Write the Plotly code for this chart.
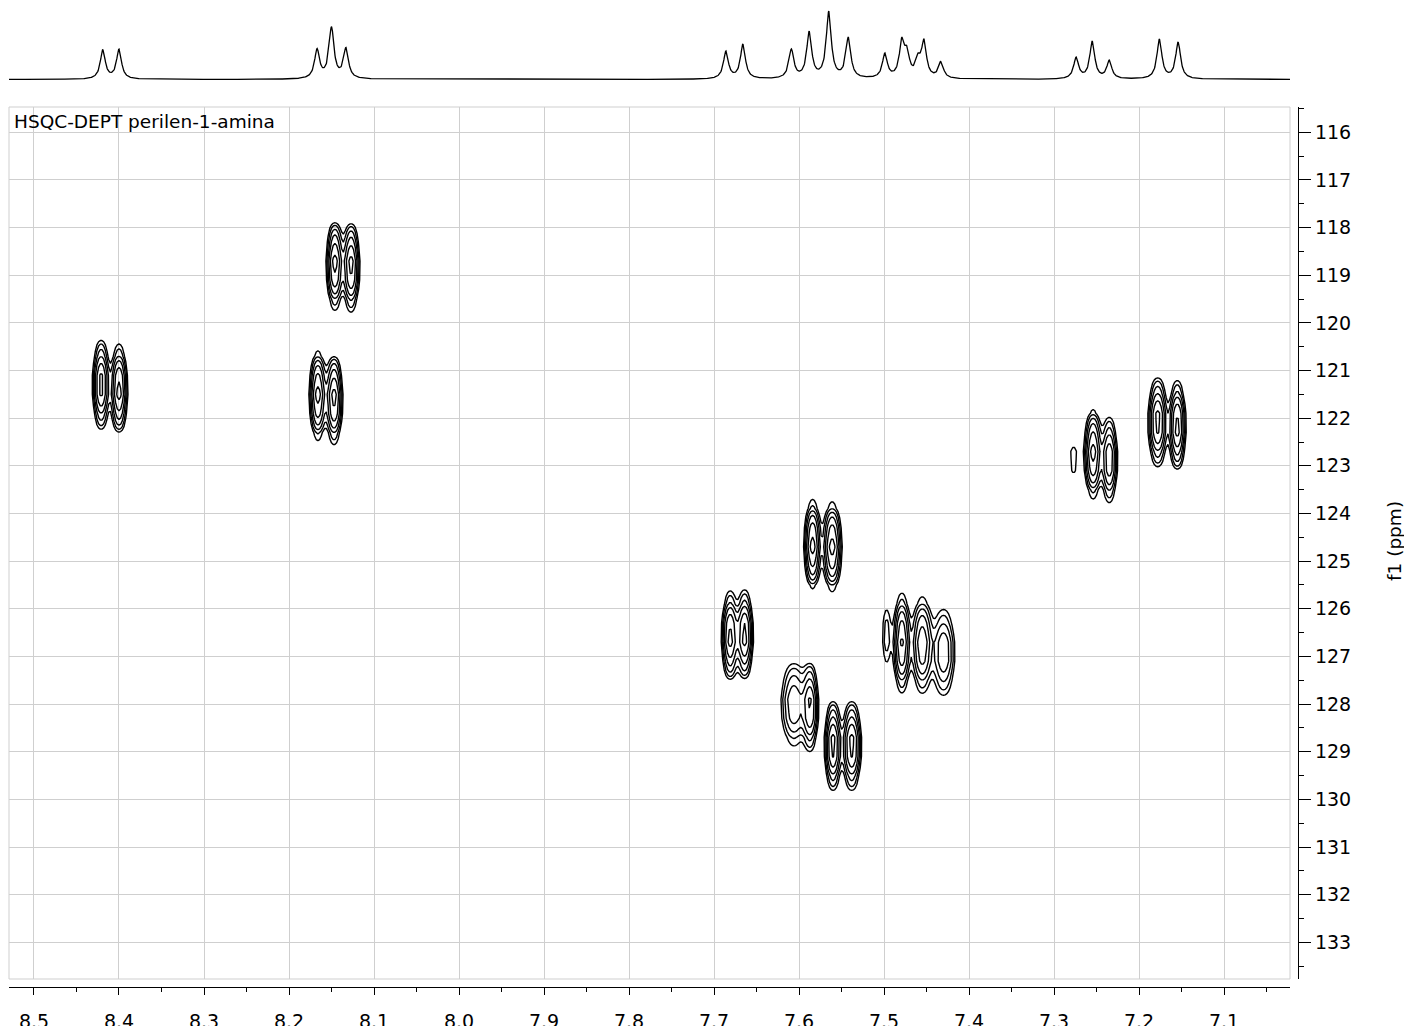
import numpy as np
import plotly.graph_objects as go

# ---------------- data ----------------
# 1H projection (top trace): peak positions (ppm) and observed heights (arb. units)
h1_ppm = [8.419, 8.400, 8.167, 8.150, 8.133,
          7.686, 7.666, 7.609, 7.588, 7.565, 7.542,
          7.499, 7.479, 7.473, 7.460, 7.453, 7.433,
          7.274, 7.255, 7.235, 7.176, 7.154]
h1_height = [30.0, 30.5, 31.0, 53.0, 32.0,
             28.5, 35.5, 30.5, 48.5, 68.5, 42.5,
             26.5, 42.5, 33.5, 26.5, 40.5, 18.5,
             22.5, 38.5, 19.5, 40.5, 37.5]

# HSQC cross peaks: f2 (1H ppm), f1 (13C ppm), relative amplitude, f2 / f1 widths (ppm)
cp_f2 = [8.421, 8.400, 8.166, 8.147, 8.146, 8.127,
         7.681, 7.664, 7.584, 7.561, 7.606, 7.587,
         7.560, 7.538, 7.497, 7.479, 7.455, 7.430,
         7.277, 7.254, 7.235, 7.178, 7.155]
cp_f1 = [121.30, 121.40, 121.52, 121.60, 118.78, 118.82,
         126.58, 126.55, 124.66, 124.70, 128.00, 128.06,
         128.87, 128.87, 126.57, 126.72, 126.76, 126.92,
         122.87, 122.74, 122.87, 122.08, 122.16]
cp_amp = [1.0, 1.0, 1.0, 1.0, 1.0, 1.0,
          1.0, 1.0, 1.0, 1.0, 0.55, 0.9,
          1.0, 1.0, 0.22, 0.9, 0.8, 0.55,
          0.14, 1.0, 0.8, 1.0, 1.0]
cp_w2 = [0.0050, 0.0050, 0.0050, 0.0050, 0.0050, 0.0050,
         0.0050, 0.0050, 0.0050, 0.0056, 0.0085, 0.0050,
         0.0050, 0.0056, 0.0040, 0.0052, 0.0065, 0.0075,
         0.0060, 0.0052, 0.0050, 0.0056, 0.0050]
cp_w1 = [0.42, 0.42, 0.42, 0.42, 0.42, 0.42,
         0.42, 0.42, 0.42, 0.42, 0.46, 0.42,
         0.42, 0.42, 0.46, 0.48, 0.48, 0.48,
         0.40, 0.42, 0.42, 0.42, 0.42]
contour_levels = [0.11, 0.165, 0.25, 0.37, 0.56, 0.84]

x_ticks_dtick = 0.1
y_ticks_dtick = 1
title_text = "HSQC-DEPT perilen-1-amina"
f1_label = "f1 (ppm)"

# ---------------- geometry (page has an 8px body margin) ----------------
OFF = 8
W, H = 1412 - OFF, 1026 - OFF


def xp(px):
    return (px - OFF) / W


def yp(py):
    return 1 - (py - OFF) / H


X_LEFT, X_RIGHT = 9, 1290
Y_TOP, Y_BOT = 107, 979
x_range = [8.5294, 7.0224]
y_range = [133.77, 115.469]
FONT = "DejaVu Sans"

# ---------------- 1D trace ----------------
gam = 0.0035
pp = np.array(h1_ppm)
hh = np.array(h1_height)
M = gam**2 / ((pp[:, None] - pp[None, :])**2 + gam**2)
amps = np.clip(np.linalg.solve(M, hh), 0, None)
xs = np.arange(x_range[1], x_range[0], 0.0005)
spec = (amps[None, :] * gam**2 / ((xs[:, None] - pp[None, :])**2 + gam**2)).sum(axis=1)

# ---------------- 2D map (coarse f1 digitisation, fine f2) ----------------
f2 = np.arange(7.0, 8.55, 0.002)
f1 = np.arange(115.1, 134.3, 0.4)
X, Y = np.meshgrid(f2, f1)
I = np.zeros_like(X)
for a, b, c, w2, w1 in zip(cp_f2, cp_f1, cp_amp, cp_w2, cp_w1):
    I += c * np.exp(-0.5 * ((X - a) / w2) ** 2) * np.exp(-0.5 * ((Y - b) / w1) ** 2)
Z = np.round(I, 4)

fig = go.Figure()
for lv in contour_levels:
    fig.add_trace(go.Contour(
        x=f2, y=f1, z=Z, xaxis="x", yaxis="y",
        contours=dict(start=lv, end=lv * 1.0001, size=lv, coloring="lines"),
        colorscale=[[0, "black"], [1, "black"]], showscale=False,
        line=dict(color="black", width=1.4, smoothing=0), hoverinfo="skip"))
fig.add_trace(go.Scatter(x=xs, y=spec, xaxis="x2", yaxis="y2", mode="lines",
                         line=dict(color="black", width=1.3), hoverinfo="skip",
                         showlegend=False))

xd = [xp(X_LEFT), xp(X_RIGHT)]
fig.update_layout(
    width=W, height=H, margin=dict(l=0, r=0, t=0, b=0),
    template="none", paper_bgcolor="white", plot_bgcolor="white",
    showlegend=False, font=dict(family=FONT, size=19, color="black"),
    xaxis=dict(domain=xd, range=x_range, anchor="free", position=yp(987),
               showgrid=True, gridcolor="#cfcfcf", gridwidth=1,
               showline=True, linecolor="black", linewidth=1.3,
               ticks="outside", ticklen=7, tickwidth=1.3, tickcolor="black",
               tick0=8.5, dtick=x_ticks_dtick, tickformat=".1f",
               minor=dict(ticks="outside", ticklen=4, tickwidth=1.3, tickcolor="black",
                          dtick=0.05, tick0=8.5, showgrid=False),
               zeroline=False, automargin=False, ticklabelstandoff=10,
               tickfont=dict(family=FONT, size=19)),
    yaxis=dict(domain=[yp(Y_BOT), yp(Y_TOP)], range=y_range,
               side="right", anchor="free", position=xp(1298),
               showgrid=True, gridcolor="#cfcfcf", gridwidth=1,
               showline=True, linecolor="black", linewidth=1.3,
               ticks="outside", ticklen=12, tickwidth=1.3, tickcolor="black",
               tick0=116, dtick=y_ticks_dtick,
               minor=dict(ticks="outside", ticklen=5, tickwidth=1.3, tickcolor="black",
                          dtick=0.5, tick0=115.5, showgrid=False),
               zeroline=False, automargin=False,
               tickfont=dict(family=FONT, size=19)),
    xaxis2=dict(domain=xd, range=x_range, anchor="y2", visible=False),
    yaxis2=dict(domain=[yp(100), yp(OFF)], range=[-20.5, 79.5 - OFF], anchor="x2",
                visible=False),
    shapes=[dict(type="rect", xref="x domain", yref="y domain", x0=0, x1=1, y0=0, y1=1,
                 line=dict(color="#cfcfcf", width=1), fillcolor="rgba(0,0,0,0)",
                 layer="below")],
    annotations=[
        dict(text=title_text, xref="paper", yref="paper", x=xp(12), y=yp(122),
             xanchor="left", yanchor="middle", showarrow=False,
             font=dict(family=FONT, size=18.5, color="black")),
        dict(text=f1_label, xref="paper", yref="paper", x=xp(1394), y=yp(541),
             xanchor="center", yanchor="middle", showarrow=False, textangle=-90,
             font=dict(family=FONT, size=18.5, color="black")),
    ],
)
fig.write_html("out.html")
